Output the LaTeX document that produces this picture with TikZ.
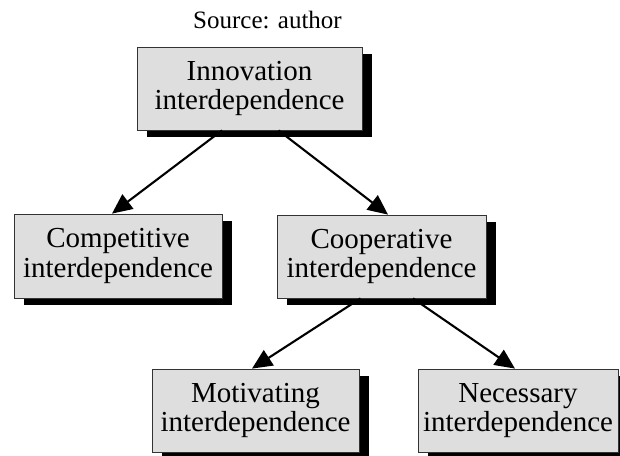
\documentclass[tikz,border=0pt]{standalone}
\usepackage{fontspec}
\setmainfont{Liberation Serif}
\usetikzlibrary{arrows.meta}
\begin{document}
\begin{tikzpicture}[x=1pt,y=-1pt,
  box/.style={draw=black!80, line width=0.8pt, fill=black!13, inner sep=0pt,
    align=center, font=\fontsize{29}{29.5}\selectfont,
    preaction={fill=black, transform canvas={xshift=10pt,yshift=-7pt}}},
  arr/.style={line width=2.1pt, -{Triangle[length=20pt,width=18pt]}}]
\useasboundingbox (0,0) rectangle (620,455);
\node[font=\fontsize{25}{25}\selectfont, anchor=base] (src) at (267.5,28) {Source: author};
\node[box, minimum width=225pt, minimum height=83pt] (top) at (249.5,88.5) {Innovation\\interdependence};
\node[box, minimum width=208pt, minimum height=84pt] (comp) at (118,256) {Competitive\\interdependence};
\node[box, minimum width=209pt, minimum height=83pt] (coop) at (381.5,256.5) {Cooperative\\interdependence};
\node[box, minimum width=207pt, minimum height=83pt] (mot) at (255.5,410.5) {Motivating\\interdependence};
\node[box, minimum width=200pt, minimum height=83pt] (nec) at (518,410.5) {Necessary\\interdependence};
\draw[arr] ([xshift=-27.5pt]top.south) -- ([xshift=-6pt]comp.north);
\draw[arr] ([xshift=29pt]top.south) -- ([xshift=6.5pt]coop.north);
\draw[arr] ([xshift=-21pt]coop.south) -- ([xshift=-3.5pt]mot.north);
\draw[arr] ([xshift=31.5pt]coop.south) -- ([xshift=-3pt]nec.north);
\end{tikzpicture}
\end{document}
